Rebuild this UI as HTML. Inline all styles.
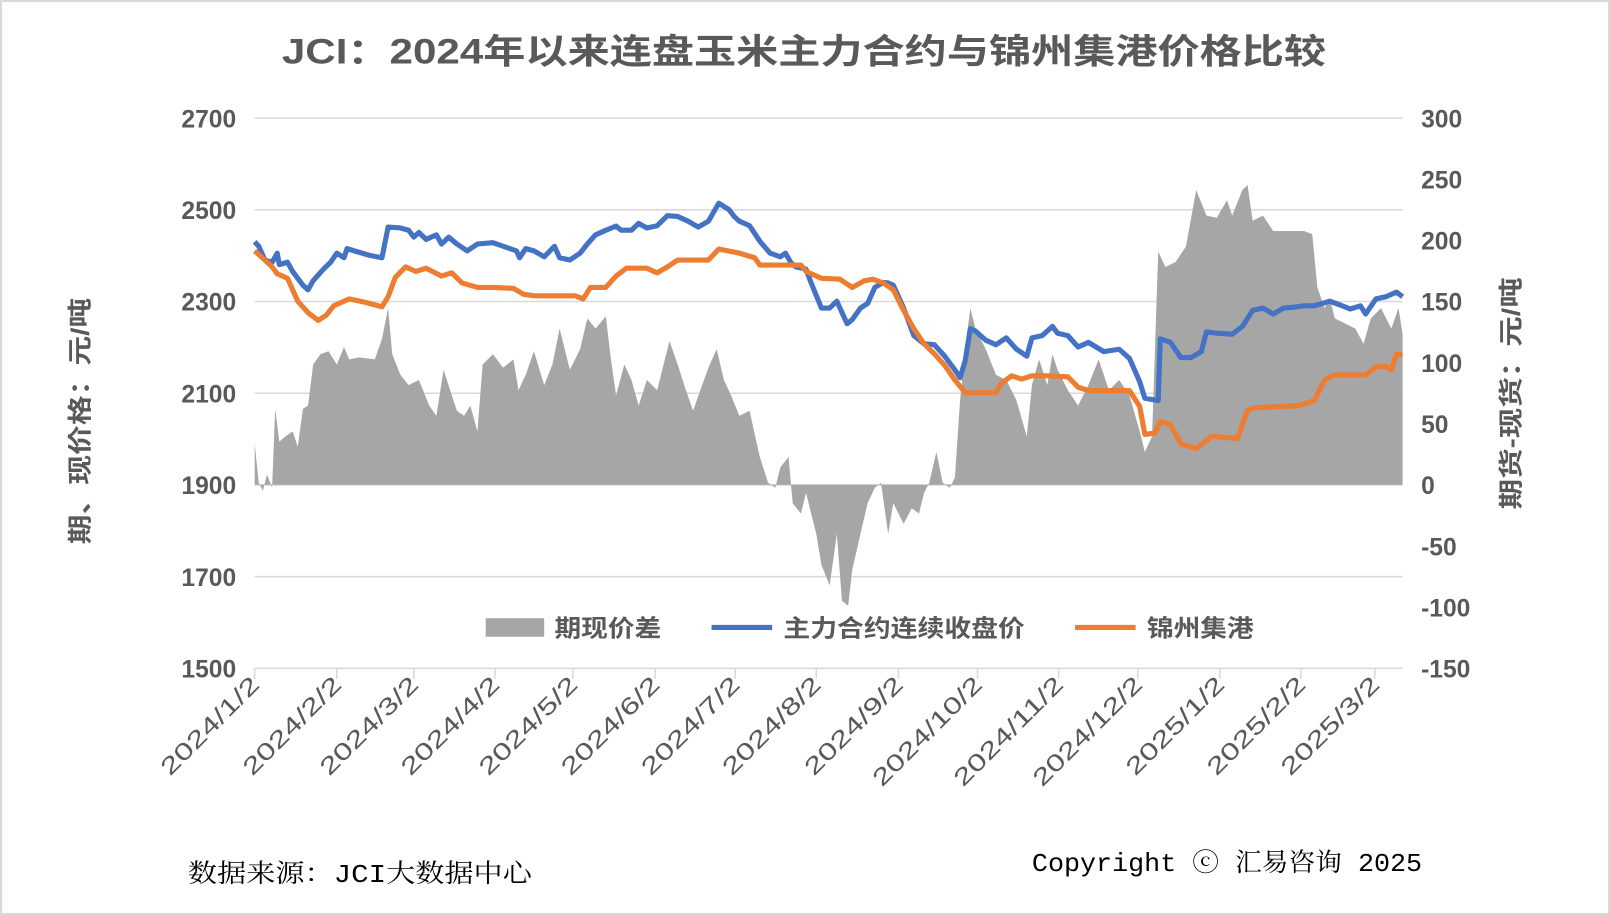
<!DOCTYPE html>
<html><head><meta charset="utf-8">
<style>
html,body{margin:0;padding:0;background:#fff;}
svg{display:block;}
text{font-family:"Liberation Sans","Noto Sans CJK SC",sans-serif;fill:#595959;}
.ser{font-family:"Liberation Mono","Noto Serif CJK SC",serif;fill:#000;}
</style></head><body>
<svg id="c" width="1610" height="915" viewBox="0 0 1568 891" preserveAspectRatio="none" xmlns="http://www.w3.org/2000/svg">
<rect x="1" y="1" width="1566" height="889" fill="#fff" stroke="#d9d9d9" stroke-width="2"/>
<text x="783" y="62" text-anchor="middle" font-size="34" font-weight="bold" textLength="1017" lengthAdjust="spacingAndGlyphs">JCI：2024年以来连盘玉米主力合约与锦州集港价格比较</text>
<g id="grid" stroke="#d9d9d9" stroke-width="1.5"></g>
<path id="area" fill="#a6a6a6"/>
<path id="blue" fill="none" stroke="#4472c4" stroke-width="5" stroke-linejoin="round"/>
<path id="orange" fill="none" stroke="#ed7d31" stroke-width="5" stroke-linejoin="round"/>
<g id="lab"></g>
<text transform="translate(86,410) rotate(-90)" text-anchor="middle" font-size="24" font-weight="bold" textLength="240" lengthAdjust="spacingAndGlyphs">期、现价格：元/吨</text>
<text transform="translate(1480,383) rotate(-90)" text-anchor="middle" font-size="24" font-weight="bold" textLength="226" lengthAdjust="spacingAndGlyphs">期货-现货：元/吨</text>
<rect x="473" y="602" width="57" height="18" fill="#a6a6a6"/>
<text x="540" y="620" font-size="23" font-weight="bold" textLength="104" lengthAdjust="spacingAndGlyphs">期现价差</text>
<line x1="693" y1="611" x2="752" y2="611" stroke="#4472c4" stroke-width="5"/>
<text x="763" y="620" font-size="23" font-weight="bold" textLength="235" lengthAdjust="spacingAndGlyphs">主力合约连续收盘价</text>
<line x1="1047" y1="611" x2="1106" y2="611" stroke="#ed7d31" stroke-width="5"/>
<text x="1117" y="620" font-size="23" font-weight="bold" textLength="104" lengthAdjust="spacingAndGlyphs">锦州集港</text>
<text class="ser" x="183" y="859" font-size="25" textLength="335" lengthAdjust="spacingAndGlyphs">数据来源：JCI大数据中心</text>
<text class="ser" x="1005" y="848" font-size="25" textLength="380" lengthAdjust="spacingAndGlyphs">Copyright ⓒ 汇易咨询 2025</text>
</svg>
<script>
const NS="http://www.w3.org/2000/svg";
function el(p,t,a,txt){const e=document.createElementNS(NS,t);for(const k in a)e.setAttribute(k,a[k]);if(txt!=null)e.textContent=txt;p.appendChild(e);return e;}
const g=document.getElementById('grid'),lab=document.getElementById('lab');
const ly=v=>115+(2700-v)*0.4458, ry=v=>472-v*1.19;
for(let i=0;i<7;i++){const y=115+i*89.3;el(g,'line',{x1:248,x2:1366,y1:y,y2:y});
el(lab,'text',{x:230,y:y+9,'text-anchor':'end','font-size':24,'font-weight':'bold'},String(2700-i*200));}
for(let i=0;i<10;i++){const y=115+i*59.53;
el(lab,'text',{x:1384,y:y+9,'font-size':24,'font-weight':'bold'},String(300-i*50));}
const ticks=[248,328,403,482,558,638,716,795,875,952,1031,1108,1188,1267,1339];
const names=['2024/1/2','2024/2/2','2024/3/2','2024/4/2','2024/5/2','2024/6/2','2024/7/2','2024/8/2','2024/9/2','2024/10/2','2024/11/2','2024/12/2','2025/1/2','2025/2/2','2025/3/2'];
ticks.forEach((x,i)=>{el(g,'line',{x1:x,x2:x,y1:651,y2:661});
const L=names[i].length>8?140:125;
el(lab,'text',{transform:`translate(${x+6},${668}) rotate(-45)`,'text-anchor':'end','font-size':23,fill:'#595959',textLength:L,lengthAdjust:'spacingAndGlyphs'},names[i]);});
const B=[[248,2430],[252,2420],[258,2390],[265,2385],[270,2405],[272,2380],[280,2385],[285,2365],[295,2335],[300,2325],[305,2345],[315,2370],[322,2385],[328,2405],[335,2395],[338,2415],[345,2410],[360,2400],[372,2395],[378,2462],[390,2460],[398,2455],[403,2440],[408,2450],[415,2435],[425,2445],[430,2425],[437,2440],[445,2425],[455,2410],[465,2425],[480,2428],[490,2420],[503,2410],[506,2395],[512,2415],[520,2410],[530,2397],[540,2420],[545,2395],[555,2390],[565,2405],[572,2425],[580,2445],[590,2455],[600,2464],[605,2455],[615,2455],[622,2470],[630,2460],[640,2465],[650,2487],[660,2485],[670,2475],[680,2462],[690,2475],[700,2514],[710,2500],[715,2485],[720,2475],[730,2465],[740,2431],[750,2405],[760,2397],[765,2405],[770,2385],[775,2375],[785,2370],[790,2340],[800,2285],[808,2285],[815,2300],[825,2251],[830,2260],[838,2285],[845,2295],[852,2330],[860,2341],[865,2340],[870,2335],[880,2285],[890,2225],[900,2207],[910,2205],[920,2180],[930,2150],[935,2133],[940,2170],[945,2240],[950,2235],[960,2215],[970,2205],[980,2220],[990,2195],[1000,2180],[1005,2220],[1015,2225],[1025,2245],[1030,2230],[1040,2225],[1050,2200],[1060,2210],[1075,2190],[1090,2195],[1100,2175],[1110,2124],[1115,2088],[1128,2083],[1130,2218],[1140,2210],[1150,2177],[1160,2177],[1170,2190],[1175,2233],[1185,2230],[1200,2228],[1210,2245],[1220,2280],[1230,2285],[1240,2272],[1250,2285],[1260,2287],[1270,2290],[1280,2290],[1295,2300],[1305,2292],[1315,2283],[1325,2290],[1330,2272],[1340,2305],[1350,2310],[1360,2320],[1366,2310]];
const O=[[248,2410],[258,2390],[265,2375],[270,2360],[280,2350],[290,2300],[300,2275],[310,2258],[318,2270],[325,2290],[340,2305],[355,2298],[372,2288],[378,2310],[385,2352],[395,2375],[405,2365],[415,2372],[430,2355],[440,2362],[450,2340],[465,2330],[480,2330],[500,2328],[510,2315],[520,2312],[560,2312],[568,2305],[575,2330],[590,2330],[600,2355],[610,2372],[630,2372],[640,2362],[650,2375],[660,2390],[690,2390],[700,2414],[720,2405],[735,2395],[740,2379],[780,2379],[785,2365],[800,2350],[818,2348],[830,2330],[842,2345],[850,2348],[860,2340],[870,2325],[880,2280],[890,2240],[900,2207],[910,2185],[920,2160],[930,2128],[940,2100],[970,2100],[975,2120],[985,2137],[995,2130],[1005,2137],[1020,2137],[1040,2135],[1050,2112],[1060,2105],[1080,2105],[1100,2105],[1110,2070],[1115,2009],[1125,2012],[1130,2038],[1140,2030],[1150,1989],[1165,1978],[1180,2005],[1205,2000],[1215,2061],[1220,2067],[1265,2072],[1280,2083],[1290,2128],[1300,2139],[1330,2139],[1340,2157],[1350,2157],[1355,2150],[1360,2184],[1366,2184]];
const A=[[248,432],[252,470],[256,478],[260,462],[265,475],[268,398],[272,430],[278,425],[285,420],[290,435],[295,398],[300,395],[305,355],[312,345],[320,342],[328,355],[335,338],[340,350],[350,348],[365,350],[372,330],[378,300],[382,345],[390,365],[398,375],[408,370],[418,395],[425,405],[432,360],[440,385],[445,400],[452,405],[458,395],[465,420],[470,355],[480,345],[490,358],[500,350],[505,380],[512,365],[520,342],[530,375],[538,355],[545,320],[555,360],[565,340],[572,310],[580,320],[590,308],[595,350],[600,385],[608,355],[615,370],[622,395],[630,370],[640,380],[652,332],[660,355],[668,380],[675,400],[682,380],[690,358],[698,340],[705,370],[712,385],[720,405],[730,400],[740,445],[748,470],[755,475],[760,455],[768,445],[772,490],[780,500],[785,480],[795,520],[800,550],[808,570],[815,520],[820,585],[826,590],[830,555],[838,520],[845,490],[852,475],[858,470],[865,520],[870,490],[880,510],[888,495],[895,500],[900,480],[905,470],[912,440],[918,470],[925,475],[930,465],[935,390],[940,340],[945,300],[950,320],[960,340],[970,365],[980,370],[990,390],[1000,425],[1005,375],[1012,350],[1020,375],[1025,345],[1030,360],[1040,380],[1050,395],[1060,375],[1070,350],[1080,380],[1090,370],[1100,385],[1110,420],[1115,440],[1122,425],[1128,245],[1135,260],[1145,255],[1155,240],[1165,185],[1175,210],[1185,212],[1195,195],[1200,210],[1210,185],[1215,180],[1220,215],[1230,210],[1240,225],[1250,225],[1260,225],[1270,225],[1278,228],[1283,280],[1290,300],[1295,290],[1300,310],[1310,315],[1320,320],[1328,335],[1335,310],[1345,300],[1355,320],[1362,300],[1366,325]];
const P=(arr,f)=>arr.map((p,i)=>(i?'L':'M')+p[0]+' '+f(p[1]).toFixed(1)).join('');
document.getElementById('blue').setAttribute('d',P(B,ly));
document.getElementById('orange').setAttribute('d',P(O,ly));
document.getElementById('area').setAttribute('d','M248 472'+A.map(p=>'L'+p[0]+' '+p[1]).join('')+'L1366 472Z');
</script>
</body></html>
